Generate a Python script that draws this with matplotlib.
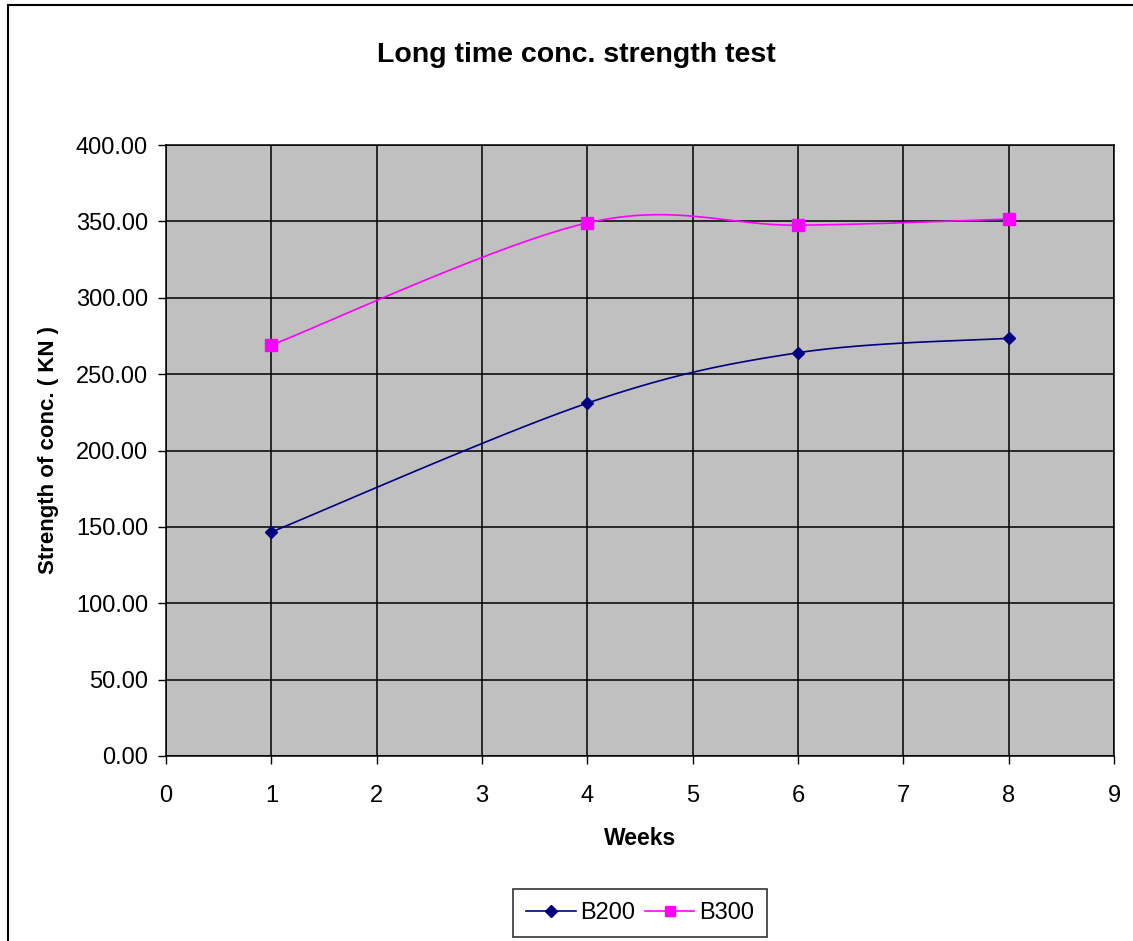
import numpy as np
import matplotlib.pyplot as plt
from matplotlib.patches import Rectangle

plt.rcParams["font.family"] = ["Liberation Sans", "DejaVu Sans"]

# ---- data ----
weeks = [1, 4, 6, 8]
b200 = [146.6, 231.0, 264.0, 273.5]
b300 = [269.0, 349.0, 347.5, 351.5]


def smooth(xs, ys, n=40):
    # Catmull-Rom style bezier smoothing (like a spreadsheet "smoothed line")
    p = np.column_stack([xs, ys]).astype(float)
    out = []
    for i in range(len(p) - 1):
        p0 = p[i - 1] if i > 0 else p[i]
        p3 = p[i + 2] if i + 2 < len(p) else p[i + 1]
        c1 = p[i] + (p[i + 1] - p0) / 6.0
        c2 = p[i + 1] - (p3 - p[i]) / 6.0
        t = np.linspace(0, 1, n)[:, None]
        seg = ((1 - t) ** 3) * p[i] + 3 * ((1 - t) ** 2) * t * c1 \
            + 3 * (1 - t) * t ** 2 * c2 + t ** 3 * p[i + 1]
        out.append(seg if i == 0 else seg[1:])
    seg = np.vstack(out)
    return seg[:, 0], seg[:, 1]


fig = plt.figure(figsize=(11.33, 9.41), dpi=100)
ax = fig.add_axes([166 / 1133, 1 - 756 / 941, (1114 - 166) / 1133, (756 - 145) / 941])
ax.set_facecolor("#C0C0C0")

# outer chart border
fig.patches.append(Rectangle((8 / 1133, -0.05), 1.2, 1 - 5 / 941 + 0.05,
                             transform=fig.transFigure, fill=False,
                             edgecolor="black", linewidth=1.5))

navy = "#000080"
magenta = "#FF00FF"

sx, sy = smooth(weeks, b200)
ax.plot(sx, sy, color=navy, lw=1.2, zorder=3)
ax.plot(weeks, b200, ls="none", marker="D", ms=6, color=navy, zorder=4)
sx, sy = smooth(weeks, b300)
ax.plot(sx, sy, color=magenta, lw=1.2, zorder=3)
ax.plot(weeks, b300, ls="none", marker="s", ms=8, color=magenta, zorder=4)

ax.set_xlim(0, 9)
ax.set_ylim(0, 400)
ax.set_xticks(range(0, 10))
ax.set_yticks(np.arange(0, 401, 50))
ax.set_yticklabels([f"{v:.2f}" for v in np.arange(0, 401, 50)])
ax.grid(True, color="black", linewidth=1.1, zorder=1)
ax.set_axisbelow(True)
ax.tick_params(axis="both", labelsize=17, direction="out", length=6, width=1, color="black")
ax.tick_params(axis="y", pad=7)
ax.tick_params(axis="x", pad=15)
for s in ax.spines.values():
    s.set_color("black")
    s.set_linewidth(1.1)

ax.set_xlabel("Weeks", fontsize=16.5, fontweight="bold", labelpad=14)
ax.set_ylabel("Strength of conc. ( KN )", fontsize=16, fontweight="bold", labelpad=12)
fig.text(576 / 1133, 1 - 55 / 941, "Long time conc. strength test", fontsize=20.5,
         fontweight="bold", ha="center", va="center")

h1, = ax.plot([], [], color=navy, lw=1.2, marker="D", ms=6)
h2, = ax.plot([], [], color=magenta, lw=1.2, marker="s", ms=7)
leg = fig.legend([h1, h2], ["B200", "B300"], loc="center", ncol=2,
                 bbox_to_anchor=(640 / 1133, 1 - 913 / 941), fontsize=17,
                 frameon=True, fancybox=False, edgecolor="black",
                 handlelength=2.1, handletextpad=0.2, columnspacing=0.4,
                 borderpad=0.55)
leg.get_frame().set_linewidth(1.2)

fig.savefig("out.png", dpi=100)
